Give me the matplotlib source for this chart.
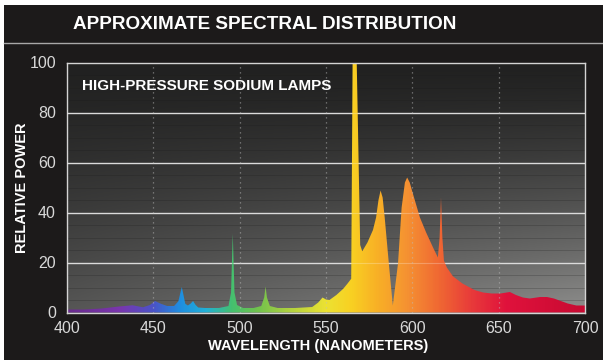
import matplotlib
matplotlib.use("Agg")
import matplotlib.pyplot as plt
import numpy as np
from matplotlib import font_manager
from matplotlib.colors import LinearSegmentedColormap
from matplotlib.patches import PathPatch, Rectangle
from matplotlib.lines import Line2D

# spectral power of a high-pressure sodium lamp (relative, peak = 100)
wavelength = [400, 410, 420, 430, 438, 444, 448, 451, 454, 458, 462, 464.5, 465.7, 466.5,
              467.3, 468.5, 470, 471.5, 473, 474.5, 476, 480, 488, 493.5, 495, 496, 497,
              498.5, 502, 508, 512.5, 514.2, 515, 515.8, 517.5, 522, 532, 542, 545.5, 548,
              550, 552, 556, 560, 562.5, 564.6, 565.4, 567.8, 569.8, 571, 574, 577.2, 579,
              580.4, 581.6, 582.8, 584, 586.4, 588.7, 591.7, 593.8, 595.7, 597, 598.5, 600.3,
              604.4, 608, 612, 614.8, 615.8, 616.6, 617.4, 618.3, 620, 623.5, 629, 636, 641,
              646, 651, 656.5, 660, 664, 668, 674, 678, 682, 686, 690, 695, 700]
power = [1.2, 1.2, 1.6, 2.4, 2.9, 2.1, 3.0, 4.6, 3.6, 2.6, 2.6, 4.5, 8.0, 10.2,
         7.5, 3.5, 2.8, 3.5, 4.6, 3.0, 2.0, 1.8, 1.8, 2.6, 8.0, 31.5, 8.0,
         3.0, 1.8, 1.8, 2.6, 6.0, 10.4, 6.0, 2.6, 1.8, 1.8, 2.2, 4.0, 6.0,
         5.2, 5.0, 7.0, 9.5, 11.6, 13.5, 100, 100, 27, 24.5, 28, 33, 38,
         45, 48.8, 46, 38, 19.6, 2.8, 19.6, 42, 52, 54, 52, 47.6,
         38, 32, 26, 22, 30, 46, 30, 20.8, 18, 14.5, 11.6, 9.0, 8.0,
         7.6, 7.6, 8.2, 7.0, 6.0, 5.6, 6.2, 6.2, 5.6, 4.6, 3.6, 2.8, 2.8]

x_ticks = [400, 450, 500, 550, 600, 650, 700]
y_ticks = [0, 20, 40, 60, 80, 100]

# colour of light along the visible band
spec_stops = [(400, "#6a2c8e"), (430, "#7a36ae"), (450, "#4a54c8"), (465, "#1f8ee0"),
              (480, "#22b0d6"), (495, "#44c070"), (510, "#70c24e"), (530, "#b4d23e"),
              (550, "#ece232"), (565, "#f9d022"), (580, "#f8b026"), (597, "#f59232"),
              (615, "#f06a32"), (635, "#e83a3a"), (655, "#e0123c"), (700, "#c80a32")]

names = {f.name for f in font_manager.fontManager.ttflist}
body_font = "Liberation Sans" if "Liberation Sans" in names else "DejaVu Sans"

fig = plt.figure(figsize=(6.03, 3.6), dpi=100, facecolor="#1c1a1a")
ax = fig.add_axes([67 / 603, 1 - 312.5 / 360, 518 / 603, 250 / 360])
ax.set_facecolor("#2a2828")

# grey backdrop, dark at the top and lighter toward bottom right
ny, nx = 200, 300
ty = np.linspace(0, 1, ny)[:, None]
sx = np.linspace(0, 1, nx)[None, :]
val = 0.13 + ty ** 1.4 * (0.21 + 0.22 * sx)
bg = np.dstack([val, val, val * 0.99])
ax.imshow(bg, extent=[400, 700, 0, 100], aspect="auto", origin="upper", zorder=0)

# faint minor lines
for yv in np.arange(5, 100, 5):
    if yv % 20:
        ax.axhline(yv, color="#1a1a1a", lw=0.6, alpha=0.25, zorder=1)
for yv in [20, 40, 60, 80]:
    ax.axhline(yv, color="#cfcfcf", lw=1.0, zorder=1)

# spectrum filled with a wavelength colour gradient
cmap = LinearSegmentedColormap.from_list(
    "spec", [((w - 400) / 300, c) for w, c in spec_stops])
poly = ax.fill_between(wavelength, 0, power, color="none", lw=0)
clip = PathPatch(poly.get_paths()[0], transform=ax.transData, facecolor="none", edgecolor="none")
ax.add_patch(clip)
grad = np.linspace(0, 1, 600)[None, :]
im = ax.imshow(grad, extent=[400, 700, 0, 100], aspect="auto", cmap=cmap,
               origin="lower", zorder=2, interpolation="bilinear")
im.set_clip_path(clip)

# gridlines faintly visible over the fill
for yv in [20, 40, 60, 80]:
    ax.axhline(yv, color="#ffffff", lw=0.8, alpha=0.25, zorder=3)
for xv in [450, 500, 550, 600, 650]:
    ax.axvline(xv, color="#bdbdbd", lw=0.9, ls=(0, (1, 3)), alpha=0.6, zorder=3)

ax.set_xlim(400, 700)
ax.set_ylim(0, 100)
ax.set_xticks(x_ticks)
ax.set_yticks(y_ticks)
ax.tick_params(length=0, colors="#d8d8d8", labelsize=11.5)
ax.tick_params(axis="y", pad=8)
ax.tick_params(axis="x", pad=6)
for lab in ax.get_xticklabels() + ax.get_yticklabels():
    lab.set_fontfamily(body_font)
for sp in ax.spines.values():
    sp.set_color("#d4d4d4")
    sp.set_linewidth(1.0)

ax.text(408.7, 90.4, "HIGH-PRESSURE SODIUM LAMPS", color="white", fontsize=11,
        fontweight="bold", family=body_font, va="center", ha="left", zorder=4)

fig.text(22 / 603, 1 - 188 / 360, "RELATIVE POWER", rotation=90, color="white",
         fontsize=10.5, fontweight="bold", family=body_font, ha="center", va="center")
fig.text(318 / 603, 1 - 346 / 360, "WAVELENGTH (NANOMETERS)", color="white",
         fontsize=10.5, fontweight="bold", family=body_font, ha="center", va="center")

# title band
fig.text(265 / 603, 1 - 24.5 / 360, "APPROXIMATE SPECTRAL DISTRIBUTION", color="white",
         fontsize=13.6, fontweight="bold", family=body_font, ha="center", va="center")
fig.add_artist(Line2D([4 / 603, 1], [1 - 43 / 360] * 2, color="#a8a8a8", lw=1.0))
fig.add_artist(Rectangle((0, 1 - 5 / 360), 1, 5 / 360, facecolor="white", edgecolor="none"))
fig.add_artist(Rectangle((0, 0), 4 / 603, 1, facecolor="white", edgecolor="none"))

fig.savefig("out.png", dpi=100, facecolor=fig.get_facecolor())
